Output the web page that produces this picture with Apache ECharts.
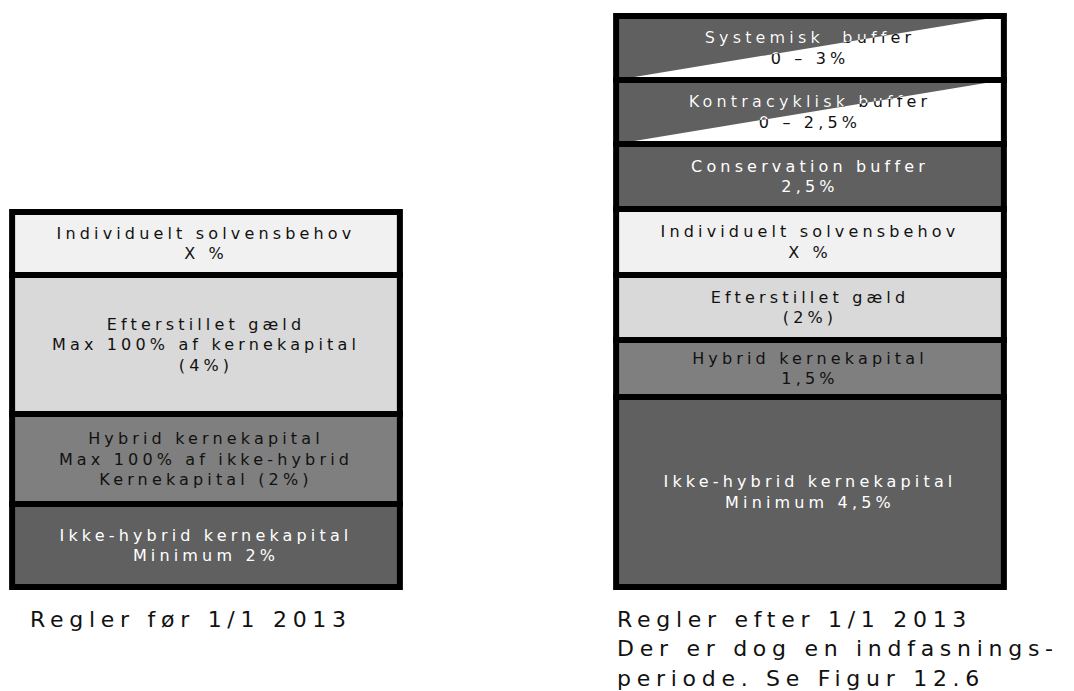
<!DOCTYPE html>
<html>
<head>
<meta charset="utf-8">
<script src="https://cdn.jsdelivr.net/npm/echarts@6/dist/echarts.min.js"></script>
<style>
  html, body { margin: 0; padding: 0; background: #fff; }
  #chart { width: 1074px; height: 691px; }
  #chart text { letter-spacing: 0.26em; }
</style>
</head>
<body>
<div id="chart"></div>
<script>
// Column (category) labels shown under each stack
const categories = [
  'Regler før 1/1 2013',
  'Regler efter 1/1 2013\nDer er dog en indfasnings-\nperiode. Se Figur 12.6'
];

// Layers of the "before" column, bottom to top (heights in drawing units)
const beforeLayers = ['Ikke-hybrid kernekapital', 'Hybrid kernekapital', 'Efterstillet gæld', 'Individuelt solvensbehov'];
const beforeHeights = [83, 90, 139, 63];
const beforeLabels = [
  'Ikke-hybrid kernekapital\nMinimum 2%',
  'Hybrid kernekapital\nMax 100% af ikke-hybrid\nKernekapital (2%)',
  'Efterstillet gæld\nMax 100% af kernekapital\n(4%)',
  'Individuelt solvensbehov\nX %'
];

// Layers of the "after" column, bottom to top
const afterLayers = ['Ikke-hybrid kernekapital', 'Hybrid kernekapital', 'Efterstillet gæld', 'Individuelt solvensbehov', 'Conservation buffer', 'Kontracyklisk buffer', 'Systemisk buffer'];
const afterHeights = [190, 57, 65, 66, 65, 64, 64];
const afterLabels = [
  'Ikke-hybrid kernekapital\nMinimum 4,5%',
  'Hybrid kernekapital\n1,5%',
  'Efterstillet gæld\n(2%)',
  'Individuelt solvensbehov\nX %',
  'Conservation buffer\n2,5%',
  'Kontracyklisk buffer\n0 – 2,5%',
  'Systemisk  buffer\n0 – 3%'
];

// Styles per layer
const DARK = '#606060';
const layerStyle = {
  'Ikke-hybrid kernekapital': { fill: DARK, text: '#ffffff' },
  'Hybrid kernekapital': { fill: '#7f7f7f', text: '#111111' },
  'Efterstillet gæld': { fill: '#d9d9d9', text: '#111111' },
  'Individuelt solvensbehov': { fill: '#f1f1f1', text: '#111111' },
  'Conservation buffer': { fill: DARK, text: '#ffffff' },
  'Kontracyklisk buffer': { fill: '#ffffff', text: '#111111', split: true },
  'Systemisk buffer': { fill: '#ffffff', text: '#111111', split: true }
};

// Build stacked items
const items = [];
function addColumn(cat, layers, heights, labels) {
  let base = 0;
  layers.forEach((name, i) => {
    items.push({ cat, lo: base, hi: base + heights[i], name, label: labels[i] });
    base += heights[i];
  });
}
addColumn(0, beforeLayers, beforeHeights, beforeLabels);
addColumn(1, afterLayers, afterHeights, afterLabels);
const data = items.map(d => [d.cat, d.lo, d.hi]);

const FONT = 'DejaVu Sans';

function renderItem(params, api) {
  const it = items[params.dataIndex];
  const st = layerStyle[it.name];
  const top = api.coord([api.value(0), api.value(2)]);
  const bot = api.coord([api.value(0), api.value(1)]);
  const c0 = api.coord([0, 0]);
  const c1 = api.coord([1, 0]);
  const w = Math.abs(c1[0] - c0[0]) * 0.642;
  const x = top[0] - w / 2;
  const y = top[1];
  const h = bot[1] - top[1];
  const cx = top[0];
  const cy = y + h / 2;
  const children = [];
  children.push({ type: 'rect', shape: { x, y, width: w, height: h }, style: { fill: st.fill } });
  const tri = [[x, y], [x + w, y], [x, y + h]];
  if (st.split) {
    children.push({ type: 'polygon', shape: { points: tri }, style: { fill: DARK } });
  }
  const textStyle = {
    text: it.label, x: cx, y: cy, fill: st.text,
    fontSize: 16, fontFamily: FONT, lineHeight: 20.5,
    align: 'center', verticalAlign: 'middle'
  };
  children.push({ type: 'text', style: textStyle });
  if (st.split) {
    children.push({
      type: 'text',
      style: Object.assign({}, textStyle, { fill: '#ffffff' }),
      clipPath: { type: 'polygon', shape: { points: tri } }
    });
  }
  children.push({
    type: 'rect', shape: { x, y, width: w, height: h },
    style: { fill: 'none', stroke: '#000000', lineWidth: 6 }
  });
  return { type: 'group', children };
}

const chart = echarts.init(document.getElementById('chart'), null, { renderer: 'svg' });
chart.setOption({
  animation: false,
  backgroundColor: '#ffffff',
  grid: [
    { left: 206, right: 264, top: 0, bottom: 104 },
    { left: 30, right: 457, top: 590, height: 5 }
  ],
  xAxis: [
    { type: 'category', data: categories, boundaryGap: false, show: false },
    {
      type: 'category', gridIndex: 1, data: categories, boundaryGap: false,
      axisLine: { show: false }, axisTick: { show: false }, splitLine: { show: false },
      axisLabel: {
        interval: 0, align: 'left', verticalAlign: 'top', margin: 13,
        fontSize: 22, lineHeight: 29.5, color: '#111111', fontFamily: FONT
      }
    }
  ],
  yAxis: [
    { type: 'value', min: 0, max: 587, show: false },
    { type: 'value', gridIndex: 1, show: false }
  ],
  series: [{
    type: 'custom',
    coordinateSystem: 'cartesian2d',
    xAxisIndex: 0, yAxisIndex: 0,
    renderItem,
    data
  }]
});
</script>
</body>
</html>
